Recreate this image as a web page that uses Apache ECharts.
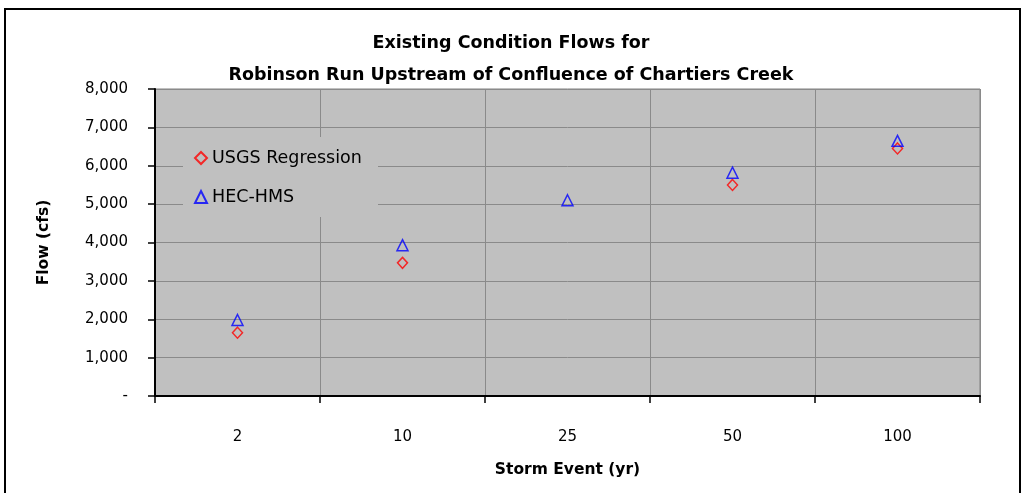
<!DOCTYPE html>
<html>
<head>
<meta charset="utf-8">
<script src="https://cdn.jsdelivr.net/npm/echarts@6/dist/echarts.min.js"></script>
<style>
html,body{margin:0;padding:0;background:#fff;}
#c{width:1022px;height:493px;}
</style>
</head>
<body>
<div id="c"></div>
<script>
var categories = ['2', '10', '25', '50', '100'];
var usgsValues = [1650, 3470, null, 5500, 6450];
var hecValues = [1980, 3930, 5100, 5820, 6650];
var yTicks = [0, 1000, 2000, 3000, 4000, 5000, 6000, 7000, 8000];

var FONT = 'DejaVu Sans';
var chart = echarts.init(document.getElementById('c'));
chart.setOption({
  backgroundColor: '#ffffff',
  animation: false,
  title: {
    text: 'Existing Condition Flows for\nRobinson Run Upstream of Confluence of Chartiers Creek',
    left: 'center',
    top: 22,
    textStyle: { fontFamily: FONT, fontSize: 17.5, fontWeight: 'bold', color: '#000', lineHeight: 32 }
  },
  graphic: [{
    type: 'rect',
    shape: { x: 5, y: 9, width: 1015, height: 500 },
    style: { fill: 'none', stroke: '#000', lineWidth: 2 },
    silent: true
  }, {
    type: 'rect',
    z: 1,
    shape: { x: 183, y: 137, width: 195, height: 80 },
    style: { fill: '#c0c0c0' },
    silent: true
  }],
  legend: {
    orient: 'vertical',
    left: 183,
    top: 137,
    padding: [12, 10, 10, 11],
    itemGap: 21,
    itemWidth: 12,
    itemHeight: 12,
    textStyle: { fontFamily: FONT, fontSize: 17.5, color: '#000' },
    data: ['USGS Regression', 'HEC-HMS']
  },
  grid: {
    left: 155, right: 42, top: 89, bottom: 97,
    show: true,
    backgroundColor: '#c0c0c0',
    borderColor: '#808080',
    borderWidth: 1
  },
  xAxis: {
    type: 'category',
    data: categories,
    boundaryGap: true,
    name: 'Storm Event (yr)',
    nameLocation: 'middle',
    nameGap: 66,
    nameTextStyle: { fontFamily: FONT, fontSize: 15.5, fontWeight: 'bold', color: '#000' },
    axisLine: { lineStyle: { color: '#000', width: 2 } },
    axisTick: { show: true, alignWithLabel: false, length: 7, lineStyle: { color: '#000', width: 1.5 } },
    axisLabel: { fontFamily: FONT, fontSize: 15, color: '#000', margin: 34 },
    splitLine: { show: true, lineStyle: { color: '#8a8a8a', width: 1 } }
  },
  yAxis: {
    type: 'value',
    min: 0, max: 8000, interval: 1000,
    name: 'Flow (cfs)',
    nameLocation: 'middle',
    nameGap: 103,
    nameTextStyle: { fontFamily: FONT, fontSize: 15.5, fontWeight: 'bold', color: '#000' },
    axisLine: { show: true, lineStyle: { color: '#000', width: 2 } },
    axisTick: { show: true, length: 7, lineStyle: { color: '#000', width: 1.5 } },
    axisLabel: {
      fontFamily: FONT, fontSize: 15, color: '#000', margin: 27,
      formatter: function (v) {
        if (yTicks.indexOf(v) < 0) return '';
        return v === 0 ? '-' : v.toLocaleString('en-US');
      }
    },
    splitLine: { show: true, lineStyle: { color: '#8a8a8a', width: 1 } }
  },
  series: [{
    name: 'USGS Regression',
    type: 'scatter',
    data: usgsValues,
    symbol: 'diamond',
    symbolSize: [10, 11],
    itemStyle: { color: 'rgba(0,0,0,0)', borderColor: '#ff0000', borderWidth: 1.5 },
    z: 3
  }, {
    name: 'HEC-HMS',
    type: 'scatter',
    data: hecValues,
    symbol: 'triangle',
    symbolSize: [11, 11],
    itemStyle: { color: 'rgba(0,0,0,0)', borderColor: '#0000ff', borderWidth: 1.5 },
    z: 4
  }]
});
</script>
</body>
</html>
